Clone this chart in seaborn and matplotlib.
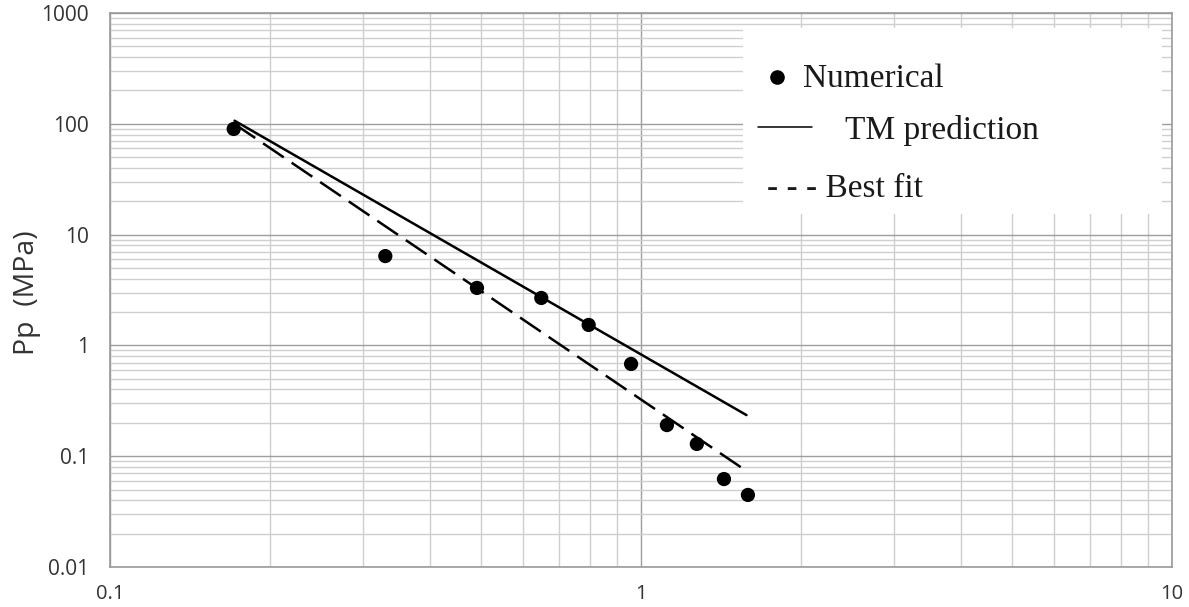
import numpy as np
import matplotlib
matplotlib.use("Agg")
import matplotlib.pyplot as plt
import seaborn as sns
from matplotlib.patches import Rectangle
from matplotlib.ticker import LogLocator, FixedLocator, FixedFormatter, NullFormatter

# Numerical results: dimensionless size vs. peak pressure Pp (MPa)
x_num = [0.171, 0.330, 0.491, 0.649, 0.797, 0.958, 1.119, 1.274, 1.433, 1.59]
pp_num = [89.8, 6.4, 3.3, 2.68, 1.53, 0.68, 0.191, 0.129, 0.0622, 0.0447]

# TM prediction (power law, straight on log-log axes)
x_tm = [0.1716, 1.58]
pp_tm = [106.7, 0.235]

# Best fit to the numerical points
x_fit = [0.1716, 1.58]
pp_fit = [99.6, 0.0735]

x_ticks = [0.1, 1, 10]
x_tick_labels = ["0.1", "1", "10"]
y_ticks = [0.01, 0.1, 1, 10, 100, 1000]
y_tick_labels = ["0.01", "0.1", "1", "10", "100", "1000"]

legend_labels = ["Numerical", "TM prediction", "- - - Best fit"]
y_label = "Pp  (MPa)"

sns.set_theme(style="white")
plt.rcParams["font.family"] = ["Open Sans", "DejaVu Sans"]

fig = plt.figure(figsize=(11.89, 6.07), dpi=100)
ax = fig.add_axes([0.0925, 0.0659, 0.8932, 0.9127])
ax.set_xscale("log")
ax.set_yscale("log")
ax.set_xlim(0.1, 10)
ax.set_ylim(0.01, 1000)

# Data
sns.scatterplot(x=x_num, y=pp_num, ax=ax, color="black", s=105,
                edgecolor="none", linewidth=0, zorder=5)
sns.lineplot(x=x_tm, y=pp_tm, ax=ax, color="black", lw=1.8, zorder=4)
sns.lineplot(x=x_fit, y=pp_fit, ax=ax, color="black", lw=1.8, zorder=4)
ax.lines[-1].set_dashes([10, 3.8])

# Ticks and grid
ax.xaxis.set_major_locator(FixedLocator(x_ticks))
ax.xaxis.set_major_formatter(FixedFormatter(x_tick_labels))
ax.yaxis.set_major_locator(FixedLocator(y_ticks))
ax.yaxis.set_major_formatter(FixedFormatter(y_tick_labels))
ax.xaxis.set_minor_locator(LogLocator(base=10, subs=np.arange(2, 10), numticks=20))
ax.yaxis.set_minor_locator(LogLocator(base=10, subs=np.arange(2, 10), numticks=20))
ax.xaxis.set_minor_formatter(NullFormatter())
ax.yaxis.set_minor_formatter(NullFormatter())
ax.tick_params(which="both", length=0)
ax.tick_params(axis="y", pad=15, labelsize=15, labelcolor="#333333")
ax.tick_params(axis="x", pad=12, labelsize=14.5, labelcolor="#333333")
ax.grid(which="major", color="#9e9e9e", lw=1.0)
ax.grid(which="minor", color="#cfcfcf", lw=1.0)
ax.set_axisbelow(True)
for sp in ax.spines.values():
    sp.set_color("#9a9a9a")
    sp.set_linewidth(1.2)

ax.text(-0.0786, 0.4946, y_label, transform=ax.transAxes, rotation=90,
        ha="center", va="center", fontsize=20.5, color="#333333")

# Legend panel
ax.add_patch(Rectangle((0.596, 0.637), 0.3946, 0.336, transform=ax.transAxes,
                       facecolor="white", edgecolor="none", zorder=6))
serif = dict(family="Liberation Serif", fontsize=24, color="#1a1a1a",
             va="baseline", transform=ax.transAxes, zorder=7)
ax.plot([0.628], [0.8845], "o", color="black", ms=9.5, transform=ax.transAxes,
        zorder=7, clip_on=False)
ax.text(0.6525, 0.8664, legend_labels[0], **serif)
ax.plot([0.6102, 0.661], [0.7948, 0.7948], color="black", lw=1.1,
        transform=ax.transAxes, zorder=7)
ax.text(0.692, 0.7726, legend_labels[1], **serif)
ax.text(0.6186, 0.6673, legend_labels[2], **serif)

fig.savefig("out.png", dpi=100)
